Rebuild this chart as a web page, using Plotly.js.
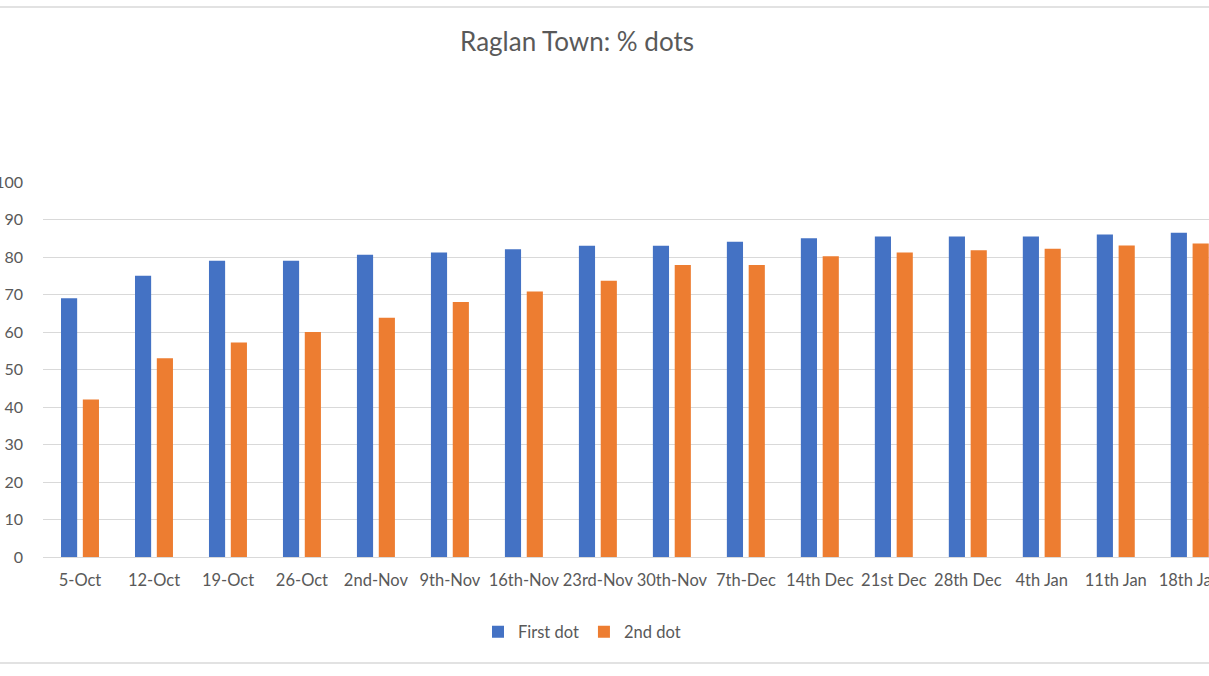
<!DOCTYPE html>
<html>
<head>
<meta charset="utf-8">
<script src="https://cdn.plot.ly/plotly-3.0.1.min.js"></script>
<style>
html,body{margin:0;padding:0;background:#fff;overflow:hidden;}
#chart{width:1209px;height:676px;}
</style>
</head>
<body>
<div id="chart"></div>
<script>
const categories = ["5-Oct","12-Oct","19-Oct","26-Oct","2nd-Nov","9th-Nov","16th-Nov","23rd-Nov","30th-Nov","7th-Dec","14th Dec","21st Dec","28th Dec","4th Jan","11th Jan","18th Jan"];
const firstDot = [69, 75, 79, 79, 80.6, 81.2, 82.1, 83, 83, 84.1, 85, 85.5, 85.5, 85.5, 86, 86.5];
const secondDot = [42, 53, 57.2, 60, 63.8, 68, 70.8, 73.7, 77.9, 77.9, 80.2, 81.2, 81.8, 82.2, 83.1, 83.6];
const yTicks = [0,10,20,30,40,50,60,70,80,90,100];

const font = {family: "Lato, 'Open Sans', sans-serif", color: "#595959"};

const traces = [
  {type: "bar", name: "First dot", x: categories, y: firstDot, marker: {color: "#4472C4"}, hoverinfo: "x+y"},
  {type: "bar", name: "2nd dot", x: categories, y: secondDot, marker: {color: "#ED7D31"}, hoverinfo: "x+y"}
];

const layout = {
  width: 1209, height: 676,
  margin: {l: 43, r: 0, t: 182, b: 119},
  paper_bgcolor: "#fff", plot_bgcolor: "#fff",
  font: Object.assign({size: 16}, font),
  title: {text: "Raglan Town: % dots", font: Object.assign({size: 26}, font), xref: "container", x: 577/1209, xanchor: "center", yref: "container", y: 1 - 42/676, yanchor: "middle"},
  barmode: "group", bargap: 0.41, bargroupgap: 0.26,
  xaxis: {type: "category", range: [-0.5, 15.26], showgrid: false, showline: true, linecolor: "#d9d9d9", ticks: "", ticklabelstandoff: 8, tickfont: Object.assign({size: 16.5}, font), fixedrange: true, automargin: false, tickangle: 0},
  yaxis: {range: [0, 100], tickvals: yTicks, showgrid: true, gridcolor: "#d9d9d9", zeroline: false, showline: false, ticks: "", ticklabelstandoff: 19, tickfont: Object.assign({size: 16}, font), automargin: false},
  showlegend: true,
  legend: {orientation: "h", xref: "container", yref: "container", x: 582/1209, xanchor: "center", y: 1 - 632/676, yanchor: "middle", font: Object.assign({size: 16.5}, font), traceorder: "normal"},
  shapes: [
    {type: "line", xref: "paper", yref: "paper", x0: -0.1, x1: 1.1, y0: (557-7)/375, y1: (557-7)/375, line: {color: "#d9d9d9", width: 1.5}},
    {type: "line", xref: "paper", yref: "paper", x0: -0.1, x1: 1.1, y0: (557-663)/375, y1: (557-663)/375, line: {color: "#d9d9d9", width: 1.5}}
  ]
};

Plotly.newPlot("chart", traces, layout, {displayModeBar: false, staticPlot: true});
</script>
</body>
</html>
